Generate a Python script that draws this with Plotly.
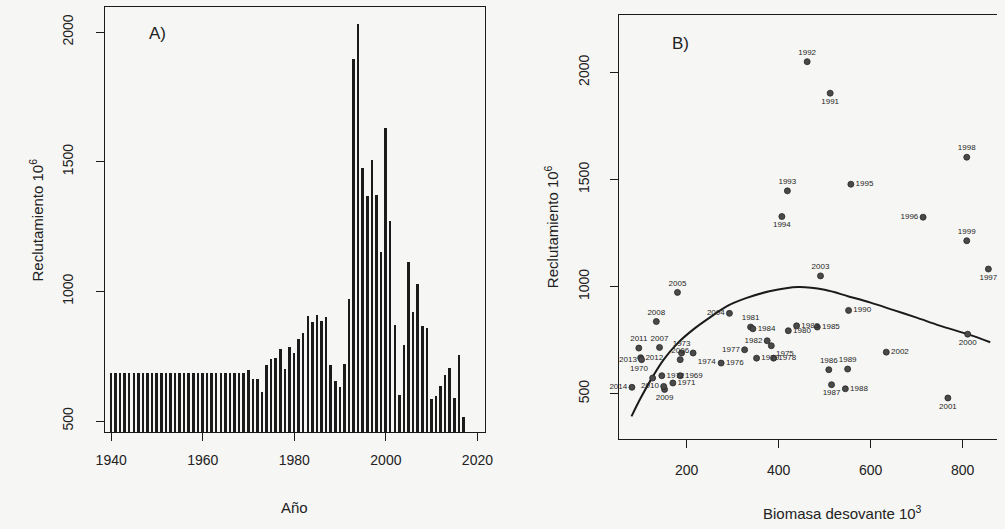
import plotly.graph_objects as go

# ---------------- data ----------------
years_a = list(range(1940, 2018))
recruit_a = [685, 685, 685, 685, 685, 685, 685, 685, 685, 685,
             685, 685, 685, 685, 685, 685, 685, 685, 685, 685,
             685, 685, 685, 685, 685, 685, 685, 685, 685, 685,
             698, 662, 662, 612, 715, 740, 743, 778, 700, 785,
             761, 818, 840, 905, 880, 910, 886, 900, 717, 655,
             633, 720, 971, 1895, 2032, 1475, 1367, 1505, 1371, 1151,
             1629, 1273, 871, 599, 792, 1113, 922, 1030, 867, 859,
             583, 596, 636, 677, 703, 587, 754, 516]

years_b = list(range(1969, 2015))
ssb_b = [186, 126, 170, 146, 189, 214, 384, 275, 326, 389,
         352, 421, 339, 375, 439, 344, 484, 509, 515, 545,
         550, 552, 512, 462, 419, 407, 557, 714, 856, 809,
         809, 811, 768, 634, 491, 293, 180, 186, 141, 134,
         152, 150, 96, 100, 102, 81]
recruit_b = [584, 573, 550, 584, 690, 690, 724, 643, 705, 666,
             666, 794, 811, 747, 817, 803, 811, 612, 542, 523,
             615, 889, 1903, 2050, 1447, 1327, 1478, 1324, 1082, 1604,
             1214, 778, 480, 694, 1050, 875, 973, 659, 716, 837,
             520, 534, 713, 668, 659, 530]

curve_ssb = [80, 100, 125, 150, 180, 214, 250, 286, 329, 380, 443, 500,
             552, 600, 650, 700, 750, 811, 860]
curve_r = [394, 480, 575, 659, 735, 799, 855, 907, 946, 978, 998, 985,
           954, 925, 890, 855, 818, 778, 740]

xticks_a = [1940, 1960, 1980, 2000, 2020]
yticks = [500, 1000, 1500, 2000]
xticks_b = [200, 400, 600, 800]

# label placement (style)
label_pos = {
    1969: 'middle right', 1970: 'top left', 1971: 'middle right', 1972: 'middle right',
    1973: 'top center', 1974: 'bottom right', 1975: 'bottom right', 1976: 'middle right',
    1977: 'middle left', 1978: 'middle right', 1979: 'middle right', 1980: 'middle right',
    1981: 'top center', 1982: 'middle left', 1983: 'middle right', 1984: 'middle right',
    1985: 'middle right', 1986: 'top center', 1987: 'bottom center', 1988: 'middle right',
    1989: 'top center', 1990: 'middle right', 1991: 'bottom center', 1992: 'top center',
    1993: 'top center', 1994: 'bottom center', 1995: 'middle right', 1996: 'middle left',
    1997: 'bottom center', 1998: 'top center', 1999: 'top center', 2000: 'bottom center',
    2001: 'bottom center', 2002: 'middle right', 2003: 'top center', 2004: 'middle left',
    2005: 'top center', 2006: 'top center', 2007: 'top center', 2008: 'top center',
    2009: 'bottom center', 2010: 'middle left', 2011: 'top center', 2012: 'middle right',
    2013: 'middle left', 2014: 'middle left',
}

# ---------------- layout helpers ----------------
W, H = 1005, 529
def fx(px):
    return px / W
def fy(py):
    return 1 - py / H

FONT = "Liberation Sans, Arial, sans-serif"
INK = "#1b1b1b"
BG = "#f6f6f4"

fig = go.Figure()

fig.add_trace(go.Bar(
    x=years_a, y=recruit_a, width=0.55,
    marker=dict(color=INK, line=dict(width=0)),
    xaxis='x', yaxis='y', showlegend=False, hoverinfo='x+y'))

fig.add_trace(go.Scatter(
    x=curve_ssb, y=curve_r, mode='lines',
    line=dict(color=INK, width=2, shape='spline'),
    xaxis='x2', yaxis='y2', showlegend=False))

fig.add_trace(go.Scatter(
    x=ssb_b, y=recruit_b, mode='markers+text',
    text=[str(y) for y in years_b],
    textposition=[label_pos[y] for y in years_b],
    textfont=dict(family=FONT, size=8, color='#262626'),
    marker=dict(size=6, color='#4a4a4a', line=dict(color='#262626', width=0.8)),
    xaxis='x2', yaxis='y2', showlegend=False, cliponaxis=False))

axis_common = dict(showgrid=False, zeroline=False, showline=True,
                   linecolor=INK, linewidth=1.4, ticks='outside', ticklen=8,
                   tickwidth=1.3, tickcolor=INK,
                   tickfont=dict(family=FONT, size=14, color='#222'))

fig.update_layout(
    width=W, height=H,
    margin=dict(l=0, r=0, t=0, b=0),
    paper_bgcolor=BG, plot_bgcolor=BG,
    bargap=0,
    xaxis=dict(domain=[fx(97), fx(484)], range=[1938.71, 2021.72],
               tickvals=xticks_a, anchor='y', mirror=True,
               ticklabelstandoff=7, **axis_common),
    yaxis=dict(domain=[fy(432), fy(7)], range=[457.6, 2096.4],
               tickvals=yticks, tickangle=-90, anchor='x', mirror=True,
               ticklabelstandoff=17, **axis_common),
    xaxis2=dict(domain=[fx(620), 1.0], range=[52.67, 874.73],
                tickvals=xticks_b, anchor='y2', mirror=True,
                ticklabelstandoff=10, **axis_common),
    yaxis2=dict(domain=[fy(439), fy(15)], range=[288.5, 2268],
                tickvals=yticks, tickangle=-90, anchor='x2', mirror=False,
                ticklabelstandoff=15, **axis_common),
)

ann = [
    dict(text="A)", x=fx(150), y=fy(33), size=17, angle=0),
    dict(text="B)", x=fx(683), y=fy(43), size=17, angle=0),
    dict(text="Año", x=fx(290), y=fy(507), size=15, angle=0),
    dict(text="Biomasa desovante 10<sup>3</sup>", x=fx(848), y=fy(512), size=15, angle=0),
    dict(text="Reclutamiento 10<sup>6</sup>", x=fx(26), y=fy(220), size=15, angle=-90),
    dict(text="Reclutamiento 10<sup>6</sup>", x=fx(551), y=fy(227), size=15, angle=-90),
]
for a in ann:
    fig.add_annotation(text=a['text'], x=a['x'], y=a['y'], xref='paper', yref='paper',
                       showarrow=False, textangle=a['angle'],
                       font=dict(family=FONT, size=a['size'], color='#222'),
                       xanchor='center', yanchor='middle')

fig.write_html("out.html")
